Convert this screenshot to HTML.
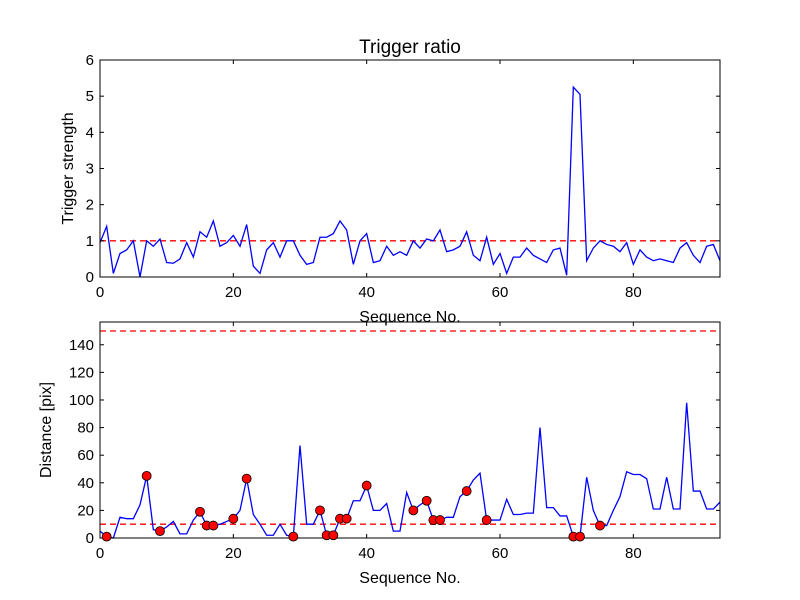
<!DOCTYPE html>
<html><head><meta charset="utf-8"><style>body{margin:0;background:#fff}svg{display:block;font-family:"Liberation Sans","DejaVu Sans",sans-serif}</style></head>
<body>
<svg id="c" width="800" height="600"></svg>
<script>
const topVals=[0.95,1.4,0.1,0.65,0.75,1.0,0.0,1.0,0.85,1.05,0.4,0.38,0.5,0.95,0.55,1.25,1.1,1.55,0.85,0.95,1.15,0.85,1.45,0.3,0.1,0.75,0.95,0.55,1.0,1.0,0.6,0.35,0.4,1.1,1.1,1.2,1.55,1.3,0.35,1.0,1.2,0.4,0.45,0.85,0.6,0.7,0.6,1.0,0.8,1.05,1.0,1.3,0.7,0.75,0.85,1.25,0.6,0.45,1.1,0.35,0.65,0.1,0.55,0.55,0.8,0.6,0.5,0.4,0.75,0.8,0.05,5.25,5.05,0.45,0.8,1.0,0.9,0.85,0.7,0.95,0.35,0.75,0.55,0.45,0.5,0.45,0.4,0.8,0.95,0.6,0.4,0.85,0.9,0.45];
const botVals=[5,1,0,15,14,14,24,45,6,5,8,12,3,3,13,19,9,9,10,12,14,20,43,17,10,2,2,10,2,1,67,10,10,20,2,2,14,14,27,27,38,20,20,25,5,5,33,20,24,27,13,13,15,15,30,34,42,47,13,13,13,28,17,17,18,18,80,22,22,16,16,1,1,44,20,9,9,20,30,48,46,46,43,21,21,44,21,21,98,34,34,21,21,26];
const markerIdx=[1,7,9,15,16,17,20,22,29,33,34,35,36,37,40,47,49,50,51,55,58,71,72,75];
const topYTicks=[0,1,2,3,4,5,6];
const botYTicks=[0,20,40,60,80,100,120,140];
const xTicks=[0,20,40,60,80];
const topThreshold=1, botThresholds=[10,150];
const NS="http://www.w3.org/2000/svg",svg=document.getElementById('c');
function mk(t,a,p){const e=document.createElementNS(NS,t);for(const k in a)e.setAttribute(k,a[k]);(p||svg).appendChild(e);return e;}
const X0=100,X1=720,XMAX=93;
const sx=v=>X0+v*(X1-X0)/XMAX;
function panel(y0,y1,ymax,vals,yt,ylab,ylx,thr,name){
 const sy=v=>y1-v*(y1-y0)/ymax;
 const g=mk('g',{});
 thr.forEach(t=>{const l=mk('line',{x1:X0,x2:X1,y1:sy(t),y2:sy(t),stroke:'#f00','stroke-dasharray':'6,4','stroke-width':1.3},g);});
 const pl=mk('polyline',{points:vals.map((v,i)=>sx(i)+','+sy(v)).join(' '),fill:'none',stroke:'#00f','stroke-width':1.3},g);
 
 const fr=mk('rect',{x:X0,y:y0,width:X1-X0,height:y1-y0,fill:'none',stroke:'#000','stroke-width':1},g);
 
 yt.forEach(t=>{const y=sy(t);mk('line',{x1:X0,x2:X0+4,y1:y,y2:y,stroke:'#000'},g);mk('line',{x1:X1,x2:X1-4,y1:y,y2:y,stroke:'#000'},g);
  const tx=mk('text',{x:X0-6,y:y+5,'text-anchor':'end','font-size':15},g);tx.textContent=t;});
 xTicks.forEach(t=>{const x=sx(t);mk('line',{x1:x,x2:x,y1:y1,y2:y1-4,stroke:'#000'},g);mk('line',{x1:x,x2:x,y1:y0,y2:y0+4,stroke:'#000'},g);
  const tx=mk('text',{x:x,y:y1+20,'text-anchor':'middle','font-size':15},g);tx.textContent=t;});
 const yl=mk('text',{x:0,y:0,transform:`translate(${ylx},${(y0+y1)/2}) rotate(-90)`,'text-anchor':'middle','font-size':16},g);yl.textContent=ylab;
 const xl=mk('text',{x:410,y:y1+45,'text-anchor':'middle','font-size':16},g);xl.textContent='Sequence No.';
 return sy;
}
panel(60,277,6,topVals,topYTicks,'Trigger strength',73,[topThreshold],'trigger-panel');
const t=mk('text',{x:410,y:53,'text-anchor':'middle','font-size':19});t.textContent='Trigger ratio';

const sy2=panel(322,538,156.5,botVals,botYTicks,'Distance [pix]',51,botThresholds,'distance-panel');
markerIdx.forEach(i=>{const c=mk('circle',{cx:sx(i),cy:sy2(botVals[i]),r:4.5,fill:'#f00',stroke:'#000','stroke-width':0.8});

});
</script>
</body></html>
